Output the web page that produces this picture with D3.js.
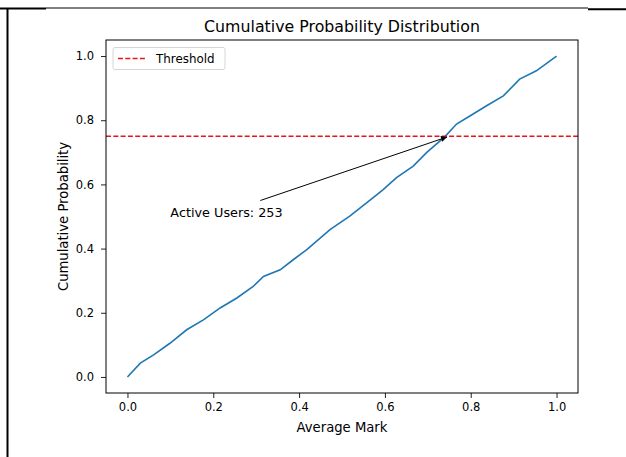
<!DOCTYPE html>
<html><head><meta charset="utf-8">
<script src="https://cdn.jsdelivr.net/npm/d3@7"></script>
<style>body{margin:0;background:#fff}svg{display:block}text{font-family:"DejaVu Sans",sans-serif;fill:#000}</style>
</head><body>
<script>
const markX = [0,0.030,0.061,0.099,0.138,0.177,0.216,0.255,0.293,0.317,0.356,0.387,0.418,0.445,0.472,0.518,0.558,0.596,0.627,0.666,0.697,0.740,0.767,0.798,0.837,0.876,0.914,0.953,1.0];
const cumProb = [0,0.043,0.069,0.105,0.147,0.178,0.215,0.246,0.282,0.313,0.334,0.366,0.397,0.428,0.459,0.501,0.543,0.584,0.621,0.657,0.699,0.749,0.788,0.813,0.845,0.876,0.928,0.954,1.0];
const xTicks = [0,0.2,0.4,0.6,0.8,1.0];
const yTicks = [0,0.2,0.4,0.6,0.8,1.0];
const threshold = 0.75;
const activeUsers = 253;
const annotTarget = [0.75,0.75];
const annotText = [0.1,0.5];

const W=626,H=457;
const svg=d3.select("body").append("svg").attr("width",W).attr("height",H);
svg.append("rect").attr("width",W).attr("height",H).attr("fill","#fff");
// page border lines
svg.append("line").attr("x1",0).attr("x2",46).attr("y1",8.5).attr("y2",8.5).attr("stroke","#000").attr("stroke-width",2);
svg.append("line").attr("x1",46).attr("x2",588).attr("y1",8).attr("y2",8).attr("stroke","#000").attr("stroke-width",1);
svg.append("line").attr("x1",588).attr("x2",626).attr("y1",9.3).attr("y2",9.3).attr("stroke","#000").attr("stroke-width",2);
svg.append("line").attr("x1",7.5).attr("x2",7.5).attr("y1",8).attr("y2",H).attr("stroke","#000").attr("stroke-width",2);

const L=106,R=578,T=40,B=393;
const x=d3.scaleLinear().domain([-0.05,1.05]).range([L,R]);
const y=d3.scaleLinear().domain([-0.05,1.05]).range([B,T]);

// axes
const xa=svg.append("g").attr("transform",`translate(0,${B})`).call(d3.axisBottom(x).tickValues(xTicks).tickFormat(d3.format(".1f")).tickSizeInner(5).tickSizeOuter(0).tickPadding(5));
const ya=svg.append("g").attr("transform",`translate(${L},0)`).call(d3.axisLeft(y).tickValues(yTicks).tickFormat(d3.format(".1f")).tickSizeInner(5).tickSizeOuter(0).tickPadding(7));
[xa,ya].forEach(g=>{g.select(".domain").remove();g.selectAll("text").attr("font-size",11.5).attr("font-family","DejaVu Sans").attr("fill","#222");g.selectAll("line").attr("stroke","#222");});

// data line
const line=d3.line().x((d,i)=>x(markX[i])).y((d,i)=>y(cumProb[i]));
svg.append("path").datum(markX).attr("d",line).attr("fill","none").attr("stroke","#1f77b4").attr("stroke-width",1.6);

// threshold
svg.append("line").attr("x1",L).attr("x2",R).attr("y1",y(threshold)).attr("y2",y(threshold)).attr("stroke","#e8141c").attr("stroke-width",1.3).attr("stroke-dasharray","5,2.3");

// frame
svg.append("rect").attr("x",L).attr("y",T).attr("width",R-L).attr("height",B-T).attr("fill","none").attr("stroke","#000").attr("stroke-width",1);

// annotation
const defs=svg.append("defs");
defs.append("marker").attr("id","ah").attr("viewBox","0 0 10 10").attr("refX",10).attr("refY",5).attr("markerWidth",7).attr("markerHeight",6).attr("markerUnits","userSpaceOnUse").attr("orient","auto")
 .append("path").attr("d","M0,0 L10,5 L0,10 z").attr("fill","#000");
const at=svg.append("text").attr("x",x(annotText[0])).attr("y",y(annotText[1])).attr("font-size",12.8).text("Active Users: "+activeUsers);
const bb=at.node().getBBox();
const cx=bb.x+bb.width/2, cy=bb.y+bb.height/2;
const tx=x(annotTarget[0]), ty=y(annotTarget[1]);
const pad=4;
const hw=bb.width/2+pad, hh=bb.height/2+pad;
const dx=tx-cx, dy=ty-cy;
const s=Math.min(hw/Math.abs(dx), hh/Math.abs(dy));
svg.append("line").attr("x1",cx+dx*s).attr("y1",cy+dy*s).attr("x2",tx-dx*0.01).attr("y2",ty-dy*0.01).attr("stroke","#000").attr("stroke-width",1).attr("marker-end","url(#ah)");

// title & labels
svg.append("text").attr("x",(L+R)/2).attr("y",32).attr("text-anchor","middle").attr("font-size",15.8).text("Cumulative Probability Distribution");
svg.append("text").attr("x",(L+R)/2).attr("y",432).attr("text-anchor","middle").attr("font-size",13.2).text("Average Mark");
svg.append("text").attr("transform",`translate(68,${(T+B)/2}) rotate(-90)`).attr("text-anchor","middle").attr("font-size",13.2).text("Cumulative Probability");

// legend
const lg=svg.append("g");
lg.append("rect").attr("x",113).attr("y",47.5).attr("width",112).attr("height",22).attr("rx",2).attr("fill","#fff").attr("fill-opacity",0.8).attr("stroke","#d6d6d6").attr("stroke-width",1);
lg.append("line").attr("x1",118).attr("x2",146).attr("y1",58.5).attr("y2",58.5).attr("stroke","#e8141c").attr("stroke-width",1.3).attr("stroke-dasharray","5,2.3");
lg.append("text").attr("x",156).attr("y",63).attr("font-size",11.9).text("Threshold");
</script>
</body></html>
